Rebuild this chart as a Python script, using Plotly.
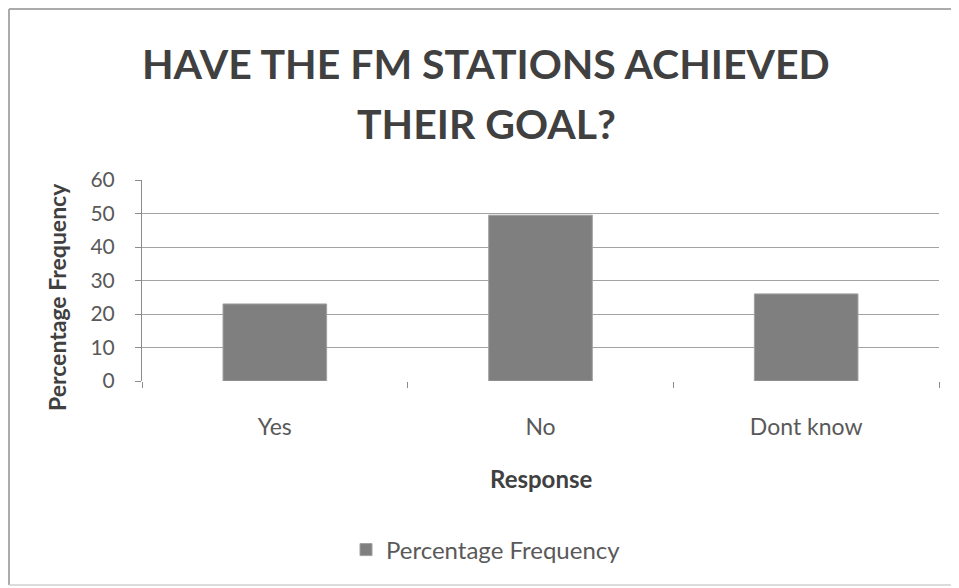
import plotly.graph_objects as go

categories = ["Yes", "No", "Dont know"]
values = [23, 49.5, 26]
y_ticks = [0, 10, 20, 30, 40, 50, 60]
series_name = "Percentage Frequency"
title_lines = ["HAVE THE FM STATIONS ACHIEVED", "THEIR GOAL?"]
x_title = "Response"
y_title = "Percentage Frequency"

# page body has an 8px margin: figure drawn 8px in from the window corner
OFF = 8
W, H = 959 - OFF, 588 - OFF
L, R, T, B = 142 - OFF, W - (939 - OFF), 180 - OFF, H - (381 - OFF)
pw = W - L - R
ph = H - T - B


def px(x):
    return (x - OFF - L) / pw


def py(y):
    return (H - B - (y - OFF)) / ph


font = "Lato, 'Open Sans', sans-serif"

fig = go.Figure()
fig.add_trace(go.Bar(
    x=categories, y=values, name=series_name,
    marker=dict(color="#7f7f7f", line=dict(color="#a0a0a0", width=1)),
    width=0.39, showlegend=True,
))

border = dict(color="#ababab", width=2)
left_x, top_y = px(OFF + 1), py(OFF + 1)
right_x, bot_y = px(955), py(585)

fig.update_layout(
    width=W, height=H,
    margin=dict(l=L, r=R, t=T, b=B),
    paper_bgcolor="white", plot_bgcolor="white",
    font=dict(family=font, color="#595959"),
    showlegend=True,
    legend=dict(orientation="h", x=px(486), xanchor="center",
                y=py(550), yanchor="middle",
                font=dict(size=24, color="#595959"), itemwidth=30),
    xaxis=dict(showgrid=False, showline=False, ticks="outside", tickson="boundaries",
               ticklen=6, tickcolor="#8c8c8c", tickfont=dict(size=23, color="#595959"),
               ticklabelstandoff=30),
    yaxis=dict(range=[0, 60], tickvals=y_ticks, showgrid=True, gridcolor="#a3a3a3", gridwidth=1,
               showline=True, linecolor="#8c8c8c", ticks="outside", ticklen=6, tickcolor="#8c8c8c",
               tickfont=dict(size=21, color="#595959"), zeroline=False, ticklabelstandoff=16),
    annotations=[
        dict(text="<b>" + title_lines[0] + "</b>", xref="paper", yref="paper",
             x=px(486), y=py(63), showarrow=False,
             font=dict(size=41, color="#404040"), xanchor="center", yanchor="middle"),
        dict(text="<b>" + title_lines[1] + "</b>", xref="paper", yref="paper",
             x=px(486), y=py(123), showarrow=False,
             font=dict(size=41, color="#404040"), xanchor="center", yanchor="middle"),
        dict(text="<b>" + y_title + "</b>", xref="paper", yref="paper",
             x=px(57), y=py(297), textangle=-90, showarrow=False,
             font=dict(size=23, color="#404040"), xanchor="center", yanchor="middle"),
        dict(text="<b>" + x_title + "</b>", xref="paper", yref="paper",
             x=px(541), y=py(478), showarrow=False,
             font=dict(size=24, color="#404040"), xanchor="center", yanchor="middle"),
    ],
    shapes=[
        dict(type="line", xref="paper", yref="paper", x0=left_x, x1=right_x, y0=top_y, y1=top_y,
             line=border, layer="below"),
        dict(type="line", xref="paper", yref="paper", x0=left_x, x1=left_x, y0=top_y, y1=bot_y,
             line=border, layer="below"),
        dict(type="line", xref="paper", yref="paper", x0=right_x, x1=right_x, y0=top_y, y1=bot_y,
             line=dict(color="#d0d0d0", width=1.5), layer="below"),
        dict(type="line", xref="paper", yref="paper", x0=left_x, x1=right_x, y0=bot_y, y1=bot_y,
             line=dict(color="#d0d0d0", width=1.5), layer="below"),
    ],
)

fig.write_html("out.html")
